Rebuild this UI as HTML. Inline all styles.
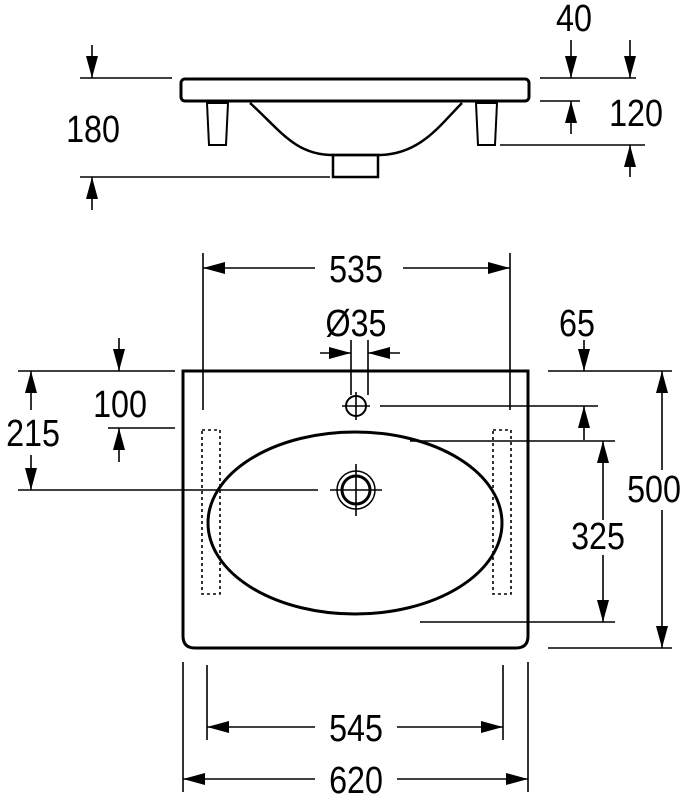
<!DOCTYPE html>
<html><head><meta charset="utf-8"><style>html,body{margin:0;padding:0;background:#fff}svg{display:block}</style></head><body>
<svg width="688" height="800" viewBox="0 0 688 800" xmlns="http://www.w3.org/2000/svg">
<defs>
<marker id="a" viewBox="0 0 22 12" refX="22" refY="6" markerWidth="22" markerHeight="12" markerUnits="userSpaceOnUse" orient="auto"><path d="M0,0 L22,6 L0,12 z" fill="#000"/></marker>
</defs>
<g fill="none" stroke="#000" stroke-width="1.6">
<!-- TOP VIEW -->
<rect x="181" y="79" width="348" height="22" rx="4" stroke-width="3"/>
<path d="M207,103 L228,103 L226,145 L209,145 Z" stroke-width="2"/>
<path d="M476,103 L497,103 L495,145 L478,145 Z" stroke-width="2"/>
<path d="M250,103 C280,130 295,155 333,155 L378,155 C420,155 440,125 462,103" stroke-width="2.5"/>
<rect x="333" y="155" width="45" height="22" stroke-width="2.5"/>
<line x1="80" y1="78" x2="172" y2="78"/>
<line x1="80" y1="177" x2="330" y2="177"/>
<line x1="92" y1="45" x2="92" y2="78" marker-end="url(#a)"/>
<line x1="92" y1="210" x2="92" y2="177" marker-end="url(#a)"/>
<line x1="540" y1="78" x2="636" y2="78"/>
<line x1="540" y1="101" x2="580" y2="101"/>
<line x1="500" y1="145" x2="645" y2="145"/>
<line x1="571" y1="40" x2="571" y2="78" marker-end="url(#a)"/>
<line x1="630" y1="40" x2="630" y2="78" marker-end="url(#a)"/>
<line x1="571" y1="134" x2="571" y2="101" marker-end="url(#a)"/>
<line x1="630" y1="177" x2="630" y2="145" marker-end="url(#a)"/>
<!-- BOTTOM VIEW -->
<path d="M183,371 L528,371 L528,636 Q528,648 516,648 L195,648 Q183,648 183,636 Z" stroke-width="3"/>
<ellipse cx="355" cy="523" rx="147" ry="91" stroke-width="3"/>
<rect x="202" y="430" width="18" height="164" stroke-dasharray="3,3"/>
<rect x="493" y="430" width="18" height="164" stroke-dasharray="3,3"/>
<circle cx="356" cy="406" r="10" stroke-width="2"/>
<line x1="342" y1="406" x2="370" y2="406"/><line x1="356" y1="392" x2="356" y2="420"/>
<circle cx="356" cy="490" r="19" stroke-width="1.5"/>
<circle cx="356" cy="490" r="14" stroke-width="3"/>
<line x1="330" y1="490" x2="382" y2="490"/><line x1="356" y1="464" x2="356" y2="516"/>
<!-- 535 -->
<line x1="203" y1="253" x2="203" y2="410"/><line x1="510" y1="253" x2="510" y2="410"/>
<line x1="315" y1="268" x2="203" y2="268" marker-end="url(#a)"/>
<line x1="403" y1="268" x2="510" y2="268" marker-end="url(#a)"/>
<!-- Ø35 -->
<line x1="351" y1="340" x2="351" y2="395"/><line x1="368" y1="340" x2="368" y2="395"/>
<line x1="320" y1="353" x2="351" y2="353" marker-end="url(#a)"/>
<line x1="400" y1="353" x2="368" y2="353" marker-end="url(#a)"/>
<!-- 65 -->
<line x1="548" y1="371" x2="672" y2="371"/>
<line x1="380" y1="406" x2="598" y2="406"/>
<line x1="584" y1="340" x2="584" y2="371" marker-end="url(#a)"/>
<line x1="584" y1="440" x2="584" y2="406" marker-end="url(#a)"/>
<!-- 500 -->
<line x1="548" y1="648" x2="672" y2="648"/>
<line x1="662" y1="470" x2="662" y2="371" marker-end="url(#a)"/>
<line x1="662" y1="510" x2="662" y2="648" marker-end="url(#a)"/>
<!-- 325 -->
<line x1="410" y1="441" x2="615" y2="441"/>
<line x1="420" y1="622" x2="615" y2="622"/>
<line x1="603" y1="520" x2="603" y2="441" marker-end="url(#a)"/>
<line x1="603" y1="555" x2="603" y2="622" marker-end="url(#a)"/>
<!-- 215 -->
<line x1="18" y1="371" x2="175" y2="371"/>
<line x1="18" y1="490" x2="318" y2="490"/>
<line x1="31" y1="410" x2="31" y2="371" marker-end="url(#a)"/>
<line x1="31" y1="455" x2="31" y2="490" marker-end="url(#a)"/>
<!-- 100 -->
<line x1="108" y1="428" x2="175" y2="428"/>
<line x1="119" y1="338" x2="119" y2="371" marker-end="url(#a)"/>
<line x1="119" y1="462" x2="119" y2="428" marker-end="url(#a)"/>
<!-- 545 -->
<line x1="207" y1="665" x2="207" y2="740"/><line x1="503" y1="665" x2="503" y2="740"/>
<line x1="315" y1="727" x2="207" y2="727" marker-end="url(#a)"/>
<line x1="397" y1="727" x2="503" y2="727" marker-end="url(#a)"/>
<!-- 620 -->
<line x1="183" y1="662" x2="183" y2="792"/><line x1="528" y1="662" x2="528" y2="792"/>
<line x1="315" y1="779" x2="183" y2="779" marker-end="url(#a)"/>
<line x1="397" y1="779" x2="528" y2="779" marker-end="url(#a)"/>
</g>
<g font-family="'Liberation Sans',sans-serif" font-size="38" fill="#000" text-anchor="middle">
<text transform="translate(93,142) scale(0.85,1)">180</text>
<text transform="translate(574,31) scale(0.85,1)">40</text>
<text transform="translate(636,126) scale(0.85,1)">120</text>
<text transform="translate(356,282) scale(0.85,1)">535</text>
<text transform="translate(356,336) scale(0.85,1)">Ø35</text>
<text transform="translate(577,336) scale(0.85,1)">65</text>
<text transform="translate(33,446) scale(0.85,1)">215</text>
<text transform="translate(120,417) scale(0.85,1)">100</text>
<text transform="translate(654,502) scale(0.85,1)">500</text>
<text transform="translate(598,549) scale(0.85,1)">325</text>
<text transform="translate(356,741) scale(0.85,1)">545</text>
<text transform="translate(356,793) scale(0.85,1)">620</text>
</g>
</svg>
</body></html>
